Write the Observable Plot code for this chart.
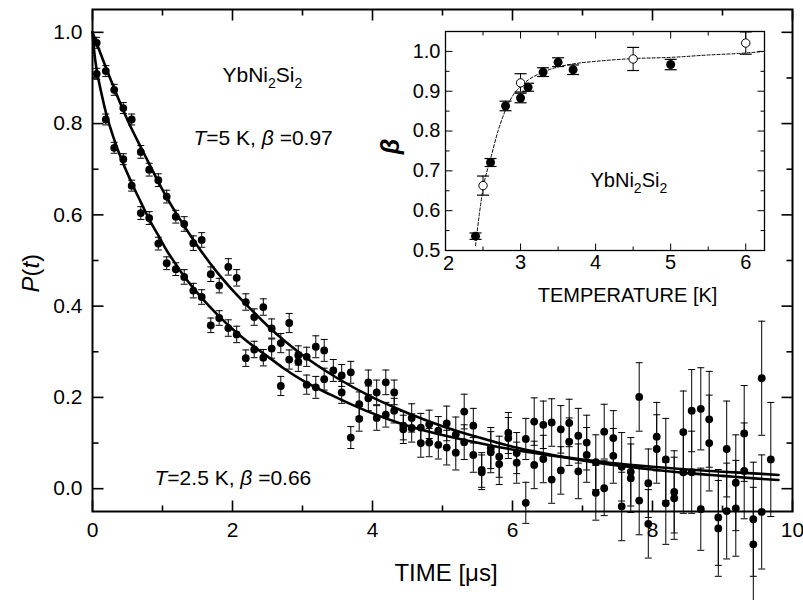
<!DOCTYPE html>
<html><head><meta charset="utf-8">
<script src="https://cdn.jsdelivr.net/npm/d3@7"></script>
<script src="https://cdn.jsdelivr.net/npm/@observablehq/plot@0.6"></script>
<style>
body{margin:0;background:#fff;}
#wrap{position:relative;width:803px;height:600px;background:#fff;}
#wrap svg{position:absolute;overflow:visible;}
text{white-space:pre;}
</style></head><body><div id="wrap"></div>
<script>
// ---------- main panel data ----------
const times = [0.06,0.19,0.31,0.44,0.56,0.69,0.81,0.94,1.06,1.19,1.31,1.44,1.56,1.69,1.81,1.94,2.06,2.19,2.31,2.44,2.56,2.69,2.81,2.94,3.06,3.19,3.31,3.44,3.56,3.69,3.81,3.94,4.06,4.19,4.31,4.44,4.56,4.69,4.81,4.94,5.06,5.19,5.31,5.44,5.56,5.69,5.81,5.94,6.06,6.19,6.31,6.44,6.56,6.69,6.81,6.94,7.06,7.19,7.31,7.44,7.56,7.69,7.81,7.94,8.06,8.19,8.31,8.44,8.56,8.69,8.81,8.94,9.06,9.19,9.31,9.44,9.56,9.69];
const pT5K = [0.977,0.915,0.874,0.834,0.809,0.738,0.699,0.676,0.640,0.596,0.580,0.538,0.545,0.470,0.445,0.486,0.462,0.409,0.376,0.398,0.351,0.319,0.363,0.292,0.289,0.311,0.303,0.259,0.248,0.255,0.185,0.233,0.211,0.233,0.211,0.138,0.155,0.134,0.141,0.127,0.143,0.119,0.169,0.138,0.041,0.089,0.070,0.122,0.078,0.109,0.147,0.140,0.145,0.130,0.144,0.116,0.101,0.058,0.125,0.111,0.048,0.037,0.201,0.012,0.114,0.064,-0.007,0.124,0.171,0.175,0.152,-0.063,0.087,0.013,0.121,-0.067,0.242,0.064];
const pT25K = [0.909,0.809,0.747,0.722,0.664,0.604,0.593,0.537,0.494,0.481,0.464,0.434,0.420,0.358,0.374,0.352,0.338,0.286,0.305,0.287,0.307,0.225,0.283,0.278,0.228,0.222,0.240,null,0.211,0.112,0.153,0.198,0.155,0.162,0.171,0.130,0.133,0.100,0.101,0.096,0.090,0.079,0.102,0.074,0.036,0.080,0.054,0.111,0.057,-0.031,0.052,0.065,0.020,0.040,0.103,0.038,0.074,-0.009,0.001,0.072,-0.039,0.023,-0.026,-0.077,0.087,-0.032,-0.021,0.036,0.036,-0.045,0.100,-0.087,-0.049,-0.043,0.039,-0.122,-0.051,null];
const errBars = [0.012,0.012,0.012,0.012,0.012,0.014,0.014,0.014,0.014,0.014,0.016,0.016,0.016,0.016,0.016,0.018,0.018,0.018,0.018,0.018,0.021,0.021,0.021,0.021,0.021,0.024,0.024,0.024,0.024,0.024,0.027,0.027,0.027,0.027,0.027,0.031,0.031,0.031,0.031,0.031,0.038,0.038,0.038,0.038,0.038,0.045,0.045,0.045,0.045,0.045,0.052,0.052,0.052,0.052,0.052,0.060,0.060,0.060,0.060,0.060,0.075,0.075,0.075,0.075,0.075,0.090,0.090,0.090,0.090,0.090,0.105,0.105,0.105,0.105,0.105,0.125,0.125,0.125];

// fitted curves
const fitTime5K = [0,0.25,0.5,0.75,1,1.25,1.5,1.75,2,2.25,2.5,2.75,3,3.5,4,4.5,5,5.5,6,6.5,7,7.5,8,8.5,9,9.5,9.8];
const fitP5K = [1.0,0.90,0.808,0.73,0.655,0.59,0.532,0.48,0.435,0.395,0.357,0.323,0.293,0.242,0.20,0.166,0.137,0.113,0.092,0.076,0.062,0.051,0.042,0.034,0.028,0.022,0.019];
const fitTime25K = [0,0.03,0.06,0.125,0.19,0.31,0.44,0.56,0.69,0.81,0.94,1.06,1.19,1.31,1.44,1.56,1.78,2.0,2.19,2.5,2.73,2.97,3.4,3.92,4.4,4.88,5.4,5.92,6.5,7,7.5,8,8.5,9,9.5,9.8];
const fitP25K = [1.0,0.95,0.918,0.868,0.825,0.765,0.712,0.67,0.628,0.59,0.555,0.522,0.492,0.465,0.44,0.418,0.382,0.35,0.325,0.29,0.264,0.24,0.206,0.17,0.143,0.122,0.104,0.088,0.074,0.064,0.055,0.048,0.042,0.037,0.033,0.030];

const xTicksMain = [0,2,4,6,8,10];
const xMinorMain = [1,3,5,7,9];
const yTicksMain = [0,0.2,0.4,0.6,0.8,1.0];
const yMinorMain = [0.1,0.3,0.5,0.7,0.9];

// ---------- inset data ----------
const tempFilled = [2.4,2.6,2.8,3.0,3.1,3.3,3.5,3.7,5.0];
const betaFilled = [0.536,0.721,0.863,0.883,0.910,0.948,0.973,0.954,0.967];
const errFilled  = [0.008,0.010,0.012,0.012,0.010,0.011,0.011,0.012,0.013];
const tempOpen = [2.5,3.0,4.5,6.0];
const betaOpen = [0.663,0.921,0.981,1.021];
const errOpen  = [0.024,0.023,0.029,0.028];
const fitTemp = [2.4,2.45,2.5,2.6,2.7,2.8,2.9,3.0,3.1,3.25,3.5,3.75,4.0,4.5,5.0,5.5,6.0,6.25];
const fitBeta = [0.512,0.59,0.655,0.73,0.80,0.853,0.89,0.912,0.928,0.944,0.961,0.970,0.975,0.982,0.985,0.991,0.996,1.0];
const xTicksInset = [3,4,5,6];
const xFirstInset = [2];
const xMinorInset = [2.5,3.5,4.5,5.5];
const yTicksInset = [0.5,0.6,0.7,0.8,0.9,1.0];
const yMinorInset = [0.55,0.65,0.75,0.85,0.95];

// ---------- helpers ----------
const seg = (x1,y1,x2,y2)=>({draw(ctx){ctx.moveTo(x1,y1);ctx.lineTo(x2,y2);}});
const FONT = "'Liberation Sans', Arial, Helvetica, sans-serif";

function tickMarks(major, minor, axis, lo, hi, Lmaj, Lmin, sw){
  const m = [];
  const add = (vals, L) => {
    if (axis === "x") {
      m.push(Plot.dot(vals, {x: d=>d, y: d=>lo, symbol: seg(0,0,0,-L), stroke:"black", fill:"none", strokeWidth: sw}));
      m.push(Plot.dot(vals, {x: d=>d, y: d=>hi, symbol: seg(0,0,0,L), stroke:"black", fill:"none", strokeWidth: sw}));
    } else {
      m.push(Plot.dot(vals, {y: d=>d, x: d=>lo, symbol: seg(0,0,L,0), stroke:"black", fill:"none", strokeWidth: sw}));
      m.push(Plot.dot(vals, {y: d=>d, x: d=>hi, symbol: seg(0,0,-L,0), stroke:"black", fill:"none", strokeWidth: sw}));
    }
  };
  add(major, Lmaj); add(minor, Lmin);
  return m;
}

function rich(svg, key, parts){
  d3.select(svg).selectAll("text").filter(function(){return this.textContent === key;}).each(function(){
    const t = d3.select(this); t.text(null);
    parts.forEach(p=>{
      const s = t.append("tspan").text(p.s);
      if (p.i) s.attr("font-style","italic");
      if (p.b) s.attr("font-weight","bold");
      if (p.fs) s.attr("font-size", p.fs);
      if (p.dy) s.attr("dy", p.dy);
    });
  });
}

// ---------- main plot ----------
const up = times.map((t,i)=>({t, p: pT5K[i], e: errBars[i]})).filter(d=>d.p!=null);
const lo = times.map((t,i)=>({t, p: pT25K[i], e: errBars[i]})).filter(d=>d.p!=null);
const pts = up.concat(lo);
const fit5 = fitTime5K.map((t,i)=>({t, p: fitP5K[i]}));
const fit25 = fitTime25K.map((t,i)=>({t, p: fitP25K[i]}));

const main = Plot.plot({
  width: 803, height: 600,
  marginLeft: 92, marginRight: 11, marginTop: 9, marginBottom: 89,
  style: {fontFamily: FONT, fontSize: "20px", background: "transparent", color: "black"},
  x: {domain: [0,10], label: null},
  y: {domain: [-0.05,1.05], label: null},
  marks: [
    Plot.ruleX(pts, {x:"t", y1: d=>d.p-d.e, y2: d=>d.p+d.e, stroke:"black", strokeWidth:1}),
    Plot.dot(pts, {x:"t", y: d=>d.p+d.e, symbol: seg(-3.5,0,3.5,0), stroke:"black", fill:"none", strokeWidth:1}),
    Plot.dot(pts, {x:"t", y: d=>d.p-d.e, symbol: seg(-3.5,0,3.5,0), stroke:"black", fill:"none", strokeWidth:1}),
    Plot.dot(pts, {x:"t", y:"p", r:3.9, fill:"black", stroke:"none"}),
    Plot.line(fit5, {x:"t", y:"p", curve:"monotone-x", stroke:"black", strokeWidth:2.6}),
    Plot.line(fit25, {x:"t", y:"p", curve:"monotone-x", stroke:"black", strokeWidth:2.6}),
    ...tickMarks(xTicksMain, xMinorMain, "x", -0.05, 1.05, 11, 6, 1.6),
    ...tickMarks(yTicksMain, yMinorMain, "y", 0, 10, 11, 6, 1.6),
    Plot.axisX(xTicksMain, {anchor:"bottom", tickSize:0, tickPadding:11, fontSize:21, tickFormat: d3.format("d")}),
    Plot.axisY(yTicksMain, {anchor:"left", tickSize:0, tickPadding:10, fontSize:21, tickFormat: d3.format(".1f")}),
    Plot.frame({stroke:"black", strokeWidth:2}),
    Plot.text(["TIME [μs]"], {x: 5.05, y: -0.186, fontSize: 24, fill:"black"}),
    Plot.text(["P(t)"], {x: -0.87, y: 0.472, rotate: -90, fontSize: 24, fill:"black"}),
    Plot.text(["YbNi2Si2"], {x: 1.857, y: 0.905, textAnchor:"start", fontSize: 21, fill:"black"}),
    Plot.text(["T=5 K, β =0.97"], {x: 1.443, y: 0.768, textAnchor:"start", fontSize: 21, fill:"black"}),
    Plot.text(["T=2.5 K, β =0.66"], {x: 0.886, y: 0.023, textAnchor:"start", fontSize: 21, fill:"black"})
  ]
});
main.style.left = "0px"; main.style.top = "0px";
rich(main, "P(t)", [{s:"P", i:1},{s:"("},{s:"t", i:1},{s:")"}]);
rich(main, "YbNi2Si2", [{s:"YbNi"},{s:"2", fs:14, dy:6},{s:"Si", dy:-6},{s:"2", fs:14, dy:6}]);
rich(main, "T=5 K, β =0.97", [{s:"T", i:1},{s:"=5 K, "},{s:"β", i:1},{s:" =0.97"}]);
rich(main, "T=2.5 K, β =0.66", [{s:"T", i:1},{s:"=2.5 K, "},{s:"β", i:1},{s:" =0.66"}]);

// ---------- inset ----------
const filled = tempFilled.map((T,i)=>({T, b: betaFilled[i], e: errFilled[i]}));
const open = tempOpen.map((T,i)=>({T, b: betaOpen[i], e: errOpen[i]}));
const both = filled.concat(open);
const fitIn = fitTemp.map((T,i)=>({T, b: fitBeta[i]}));

const inset = Plot.plot({
  width: 400, height: 310,
  marginLeft: 65, marginRight: 16, marginTop: 31, marginBottom: 60,
  style: {fontFamily: FONT, fontSize: "20px", background: "transparent", color: "black"},
  x: {domain: [2,6.25], label: null},
  y: {domain: [0.5,1.05], label: null},
  marks: [
    Plot.line(fitIn, {x:"T", y:"b", curve:"monotone-x", stroke:"black", strokeWidth:1, strokeDasharray:"3,2"}),
    Plot.ruleX(both, {x:"T", y1: d=>d.b-d.e, y2: d=>d.b+d.e, stroke:"black", strokeWidth:1}),
    Plot.dot(both, {x:"T", y: d=>d.b+d.e, symbol: seg(-6,0,6,0), stroke:"black", fill:"none", strokeWidth:1.2}),
    Plot.dot(both, {x:"T", y: d=>d.b-d.e, symbol: seg(-6,0,6,0), stroke:"black", fill:"none", strokeWidth:1.2}),
    Plot.dot(filled, {x:"T", y:"b", r:4.5, fill:"black", stroke:"none"}),
    Plot.dot(open, {x:"T", y:"b", r:4.2, fill:"white", stroke:"black", strokeWidth:1}),
    ...tickMarks(xTicksInset.concat(xFirstInset), xMinorInset, "x", 0.5, 1.05, 7, 4, 1),
    ...tickMarks(yTicksInset, yMinorInset, "y", 2, 6.25, 7, 4, 1),
    Plot.axisX(xTicksInset, {anchor:"bottom", tickSize:0, tickPadding:4, fontSize:20, tickFormat: d3.format("d")}),
    Plot.axisX(xFirstInset, {anchor:"bottom", tickSize:0, tickPadding:5, dx:3, fontSize:20, tickFormat: d3.format("d")}),
    Plot.axisY(yTicksInset, {anchor:"left", tickSize:0, tickPadding:5, fontSize:20, tickFormat: d3.format(".1f")}),
    Plot.frame({stroke:"black", strokeWidth:1.3}),
    Plot.text(["TEMPERATURE [K]"], {x: 4.425, y: 0.387, fontSize: 20, fill:"black"}),
    Plot.text(["β"], {x: 1.28, y: 0.761, rotate: -90, fontSize: 25, fontWeight:"bold", fontStyle:"italic", fill:"black"}),
    Plot.text(["YbNi2Si2"], {x: 3.932, y: 0.675, textAnchor:"start", fontSize: 20, fill:"black"})
  ]
});
inset.style.left = "380px"; inset.style.top = "0px";
rich(inset, "YbNi2Si2", [{s:"YbNi"},{s:"2", fs:14, dy:6},{s:"Si", dy:-6},{s:"2", fs:14, dy:6}]);

const wrap = document.getElementById("wrap");
wrap.appendChild(main);
wrap.appendChild(inset);
</script></body></html>
